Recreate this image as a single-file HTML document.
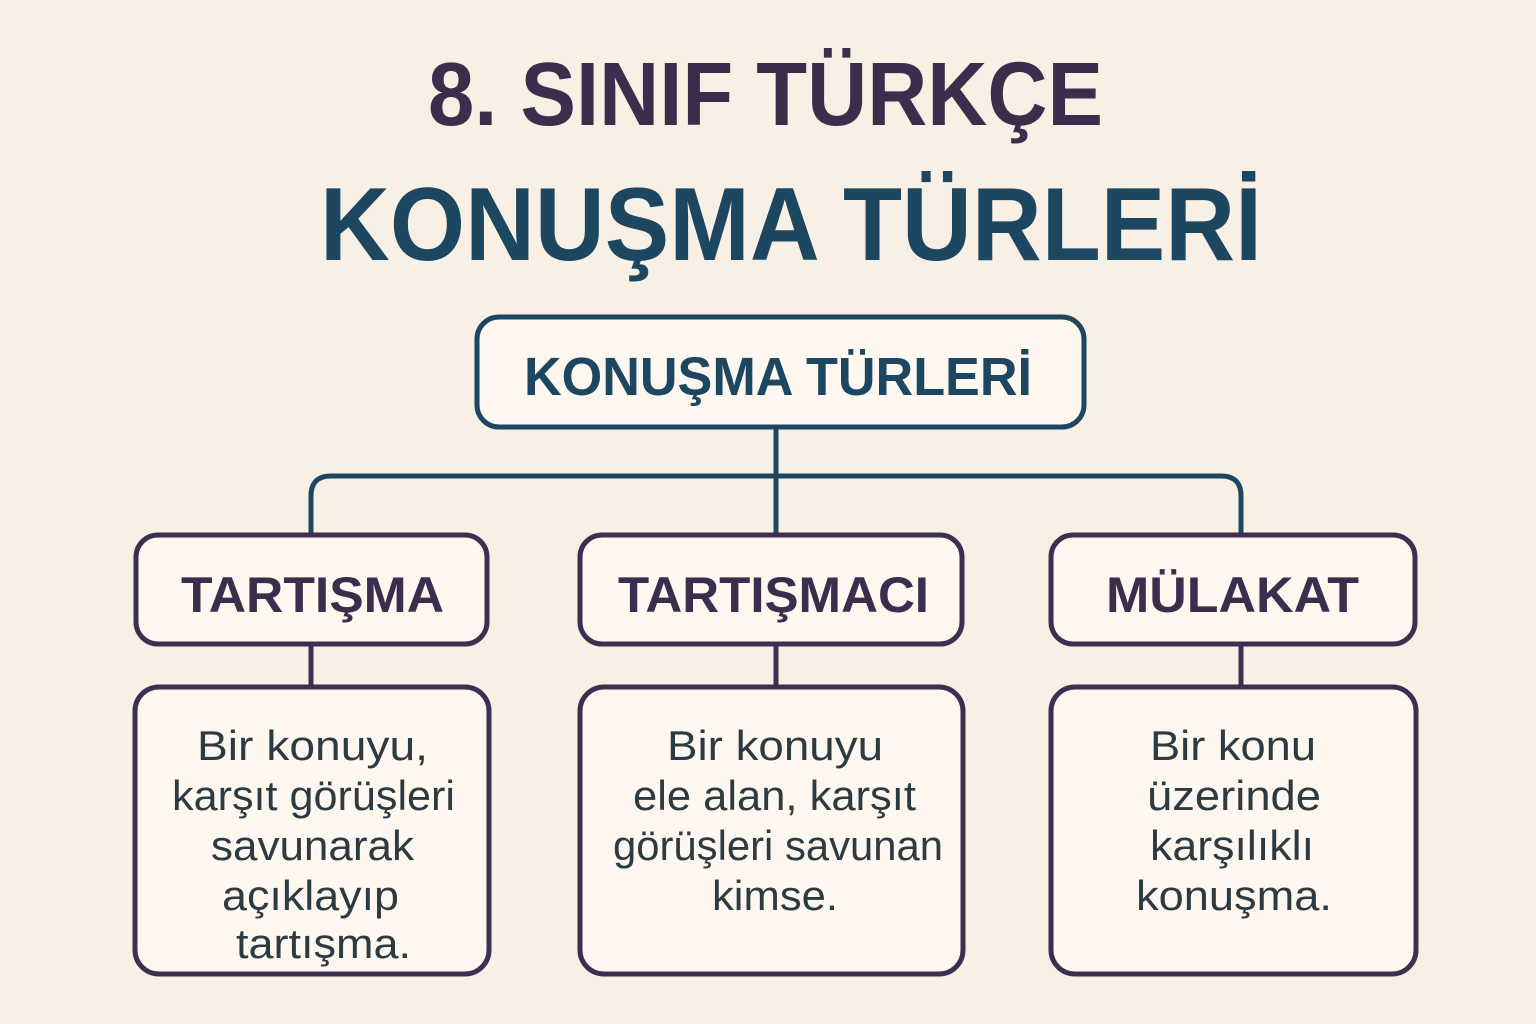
<!DOCTYPE html>
<html><head><meta charset="utf-8"><style>
html,body{margin:0;padding:0;background:#f8efe5;}
svg{display:block}
</style></head><body>
<svg width="1536" height="1024" viewBox="0 0 1536 1024" xmlns="http://www.w3.org/2000/svg">
<rect width="1536" height="1024" fill="#f8efe5"/>
<g font-family="Liberation Sans, DejaVu Sans, sans-serif" font-weight="bold">
<text x="428" y="125" font-size="90" fill="#3a2e4c" textLength="675" lengthAdjust="spacingAndGlyphs">8. SINIF TÜRKÇE</text>
<text x="320" y="260" font-size="104" fill="#1d4660" textLength="942" lengthAdjust="spacingAndGlyphs">KONUŞMA TÜRLERİ</text>
</g>
<!-- connectors -->
<g fill="none" stroke="#1d4660" stroke-width="5">
<line x1="776" y1="428" x2="776" y2="535"/>
<path d="M311 535 V496 Q311 476 331 476 H1221 Q1241 476 1241 496 V535"/>
</g>
<g stroke="#3e2f52" stroke-width="5">
<line x1="311" y1="645" x2="311" y2="688"/>
<line x1="776" y1="645" x2="776" y2="688"/>
<line x1="1241" y1="645" x2="1241" y2="688"/>
</g>
<!-- boxes -->
<rect x="477" y="317" width="607" height="110" rx="22" fill="#fdf7ef" stroke="#1d4660" stroke-width="5"/>
<g fill="#fdf7ef" stroke="#3e2f52" stroke-width="5">
<rect x="136" y="535" width="351" height="109" rx="22"/>
<rect x="580" y="535" width="382" height="109" rx="22"/>
<rect x="1051" y="535" width="364" height="109" rx="22"/>
<rect x="135" y="687" width="354" height="287" rx="24"/>
<rect x="580" y="687" width="383" height="287" rx="24"/>
<rect x="1051" y="687" width="365" height="287" rx="24"/>
</g>
<g font-family="Liberation Sans, DejaVu Sans, sans-serif" font-weight="bold" lengthAdjust="spacingAndGlyphs">
<text x="524" y="395" font-size="54" fill="#1d4660" textLength="508" lengthAdjust="spacingAndGlyphs">KONUŞMA TÜRLERİ</text>
<text x="181" y="612" font-size="50" fill="#3a2e4c" textLength="263" lengthAdjust="spacingAndGlyphs">TARTIŞMA</text>
<text x="618" y="612" font-size="50" fill="#3a2e4c" textLength="311" lengthAdjust="spacingAndGlyphs">TARTIŞMACI</text>
<text x="1106" y="612" font-size="50" fill="#3a2e4c" textLength="253" lengthAdjust="spacingAndGlyphs">MÜLAKAT</text>
</g>
<g font-family="Liberation Sans, DejaVu Sans, sans-serif" font-size="42" fill="#2c3a42">
<text x="197" y="760" textLength="231" lengthAdjust="spacingAndGlyphs">Bir konuyu,</text>
<text x="172" y="810" textLength="283" lengthAdjust="spacingAndGlyphs">karşıt görüşleri</text>
<text x="211" y="860" textLength="203" lengthAdjust="spacingAndGlyphs">savunarak</text>
<text x="222" y="910" textLength="177" lengthAdjust="spacingAndGlyphs">açıklayıp</text>
<text x="236" y="958" textLength="175" lengthAdjust="spacingAndGlyphs">tartışma.</text>

<text x="667" y="760" textLength="216" lengthAdjust="spacingAndGlyphs">Bir konuyu</text>
<text x="633" y="810" textLength="283" lengthAdjust="spacingAndGlyphs">ele alan, karşıt</text>
<text x="613" y="860" textLength="330" lengthAdjust="spacingAndGlyphs">görüşleri savunan</text>
<text x="712" y="910" textLength="126" lengthAdjust="spacingAndGlyphs">kimse.</text>

<text x="1150" y="760" textLength="166" lengthAdjust="spacingAndGlyphs">Bir konu</text>
<text x="1147" y="810" textLength="174" lengthAdjust="spacingAndGlyphs">üzerinde</text>
<text x="1150" y="860" textLength="164" lengthAdjust="spacingAndGlyphs">karşılıklı</text>
<text x="1136" y="910" textLength="196" lengthAdjust="spacingAndGlyphs">konuşma.</text>
</g>
</svg>
</body></html>
